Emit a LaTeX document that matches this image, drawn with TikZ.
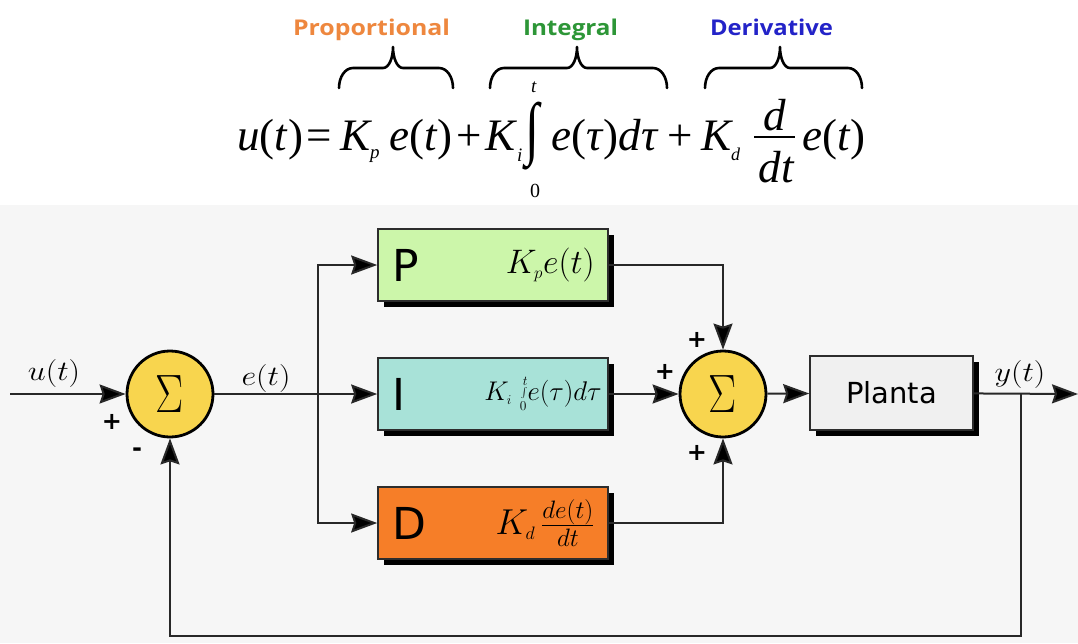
\RequirePackage{fix-cm}
\documentclass[tikz,border=0pt]{standalone}
\usepackage{fontspec}
\usepackage{graphicx}
\usetikzlibrary{arrows.meta,shadows}
\newfontfamily\eqfont{Liberation Serif}
\newfontfamily\dvs{DejaVu Sans}
\newfontfamily\osans{Open Sans}
\definecolor{bgg}{RGB}{246,246,246}
\definecolor{pcol}{RGB}{204,246,170}
\definecolor{icol}{RGB}{168,226,216}
\definecolor{dcol}{RGB}{246,126,40}
\definecolor{plcol}{RGB}{240,240,240}
\definecolor{sumy}{RGB}{248,213,78}
\definecolor{propc}{RGB}{238,135,62}
\definecolor{intc}{RGB}{45,150,55}
\definecolor{derc}{RGB}{35,35,200}
\definecolor{linec}{RGB}{40,40,40}
\definecolor{boxline}{RGB}{45,45,45}
\newcommand\ML[1]{\scalebox{1.15}[1]{$#1$}}
\newcommand\brc[3]{\draw[braceln] (#1,88) .. controls (#1,77) and (#1+6,68) .. (#1+14,68) -- (#2-10,68) .. controls (#2-4,68) and (#2,58) .. (#2,47) .. controls (#2,58) and (#2+4,68) .. (#2+10,68) -- (#3-14,68) .. controls (#3-6,68) and (#3,77) .. (#3,88);}
\begin{document}
\begin{tikzpicture}[x=1pt,y=-1pt,
  eqt/.style={inner sep=0, anchor=base west, font=\eqfont\fontsize{45}{50}\selectfont},
  eqs/.style={inner sep=0, anchor=base west, font=\eqfont\fontsize{19}{22}\selectfont},
  lbl/.style={inner sep=0, anchor=base, font=\osans\bfseries\fontsize{24}{28}\selectfont},
  braceln/.style={draw=black, line width=2.6pt, line cap=round, line join=round},
  ln/.style={draw=linec, line width=2pt},
  arr/.style={ln, -{Stealth[length=26pt,width=19pt,inset=3pt,fill=black]}},
  blk/.style={draw=boxline, line width=1.6pt, minimum width=230pt, minimum height=72pt, inner sep=0,
     drop shadow={shadow xshift=6pt, shadow yshift=-6pt, fill=black, opacity=1}},
  sumn/.style={circle, draw=black, line width=2.8pt, fill=sumy, minimum size=86pt, inner sep=0},
  sgn/.style={inner sep=0, font=\dvs\bfseries\fontsize{24}{24}\selectfont},
  mlab/.style={inner sep=0, anchor=base, font=\fontsize{28}{32}\selectfont},
  letter/.style={inner sep=0, anchor=west, font=\dvs\fontsize{44}{48}\selectfont},
  bform/.style={inner sep=0, anchor=east}
]
\useasboundingbox (0,0) rectangle (1078,643);
\fill[white] (0,0) rectangle (1078,205);
\fill[bgg] (0,205) rectangle (1078,643);

% ---------- top labels and braces ----------
\node[lbl, text=propc] (lp) at (371.5,35) {\resizebox{157pt}{16.5pt}{Proportional}};
\node[lbl, text=intc] (li) at (570.5,35) {\resizebox{95pt}{16.5pt}{Integral}};
\node[lbl, text=derc] (ld) at (771.5,35) {\resizebox{123pt}{16.5pt}{Derivative}};
\brc{339}{393}{453}
\brc{490}{577}{667}
\brc{705}{780}{862}

% ---------- equation ----------
\node[eqt] (e1) at (237,150) {\textit{u}(\textit{t})};
\node[eqt] (e2) at (306,150) {=};
\node[eqt] (e3) at (340,150) {\textit{K}};
\node[eqs] (e3s) at (370,158.5) {\textit{p}};
\node[eqt] (e4) at (389,150) {\textit{e}(\textit{t})};
\node[eqt] (e5) at (456,150) {+};
\node[eqt] (e6) at (485,150) {\textit{K}};
\node[eqs] (e6s) at (517,161) {\textit{i}};
\node[eqt, anchor=north west] (e7) at (525,102) {\resizebox*{14pt}{68pt}{∫}};
\node[eqs, anchor=base] (e7t) at (534,92) {\textit{t}};
\node[eqs, anchor=base, font=\eqfont\fontsize{20}{22}\selectfont] (e7b) at (535,197) {0};
\node[eqt] (e8) at (551,150) {\textit{e}(\textit{τ})\textit{dτ}};
\node[eqt] (e9) at (667,150) {+};
\node[eqt] (e10) at (701,150) {\textit{K}};
\node[eqs, font=\eqfont\fontsize{18}{22}\selectfont] (e10s) at (731,160) {\textit{d}};
\node[eqt, anchor=base] (fn) at (775,130) {\textit{d}};
\node[eqt, anchor=base] (fd) at (776.5,182) {\textit{dt}};
\draw[line width=2pt] (754,137) -- (795,137);
\node[eqt] (e12) at (802,150) {\textit{e}(\textit{t})};

% ---------- block diagram ----------
\node[sumn] (s1) at (170,394) {\scalebox{0.78}[1]{\fontsize{54}{54}\selectfont$\Sigma$}};
\node[blk, fill=pcol] (P) at (493,265) {};
\node[blk, fill=icol] (I) at (493,394) {};
\node[blk, fill=dcol] (D) at (493,523) {};
\node[sumn] (s2) at (723,394) {\scalebox{0.78}[1]{\fontsize{54}{54}\selectfont$\Sigma$}};
\node[blk, fill=plcol, minimum width=163pt, minimum height=74pt] (pl) at (891.5,393) {};
\node[inner sep=0, font=\dvs\fontsize{29}{32}\selectfont] (plt) at (pl.center) {Planta};

\node[letter] (Pl) at ([xshift=15pt]P.west) {P};
\node[letter] (Il) at ([xshift=15pt]I.west) {I};
\node[letter] (Dl) at ([xshift=15pt]D.west) {D};
\node[bform, font=\fontsize{34}{38}\selectfont] (Pf) at ([xshift=-14pt]P.east) {$K_{\scriptscriptstyle p}e(t)$};
\node[bform, font=\fontsize{27}{30}\selectfont] (If) at ([xshift=-7pt]I.east) {$K_{\scriptscriptstyle i}\mkern3mu\int\limits_{\scriptscriptstyle 0}^{\scriptscriptstyle t}\! e(\tau)d\tau$};
\node[bform, font=\fontsize{36}{40}\selectfont] (Df) at ([xshift=-14pt]D.east) {$K_{\scriptscriptstyle d}\,\frac{de(t)}{dt}$};

\coordinate (in) at (10,394);
\coordinate (br) at (318,394);
\coordinate (out) at (1078,394);
\coordinate (fb) at (1021,394);
\coordinate (fbb) at (1021,636);

\draw[arr] (in) -- (s1);
\draw[arr] (s1) -- (I);
\draw[arr] (br) |- (P.west);
\draw[arr] (br) |- (D.west);
\draw[arr] (I) -- (s2);
\draw[arr] (P.east) -| (s2.north);
\draw[arr] (D.east) -| (s2.south);
\draw[arr] (s2) -- (pl);
\draw[arr] (pl) -- (out);
\draw[arr] (fb) -- (fbb) -| (s1.south);

\node[mlab] (ut) at (54,380) {\ML{u(t)}};
\node[mlab] (et) at (266,385) {\ML{e(t)}};
\node[mlab] (yt) at (1020,381) {\ML{y(t)}};

\node[sgn] (sg1) at (112,422) {+};
\node[sgn] (sg2) at (137,452) {-};
\node[sgn] (sg3) at (697,340) {+};
\node[sgn] (sg4) at (665,372) {+};
\node[sgn] (sg5) at (697,453) {+};
\end{tikzpicture}
\end{document}
